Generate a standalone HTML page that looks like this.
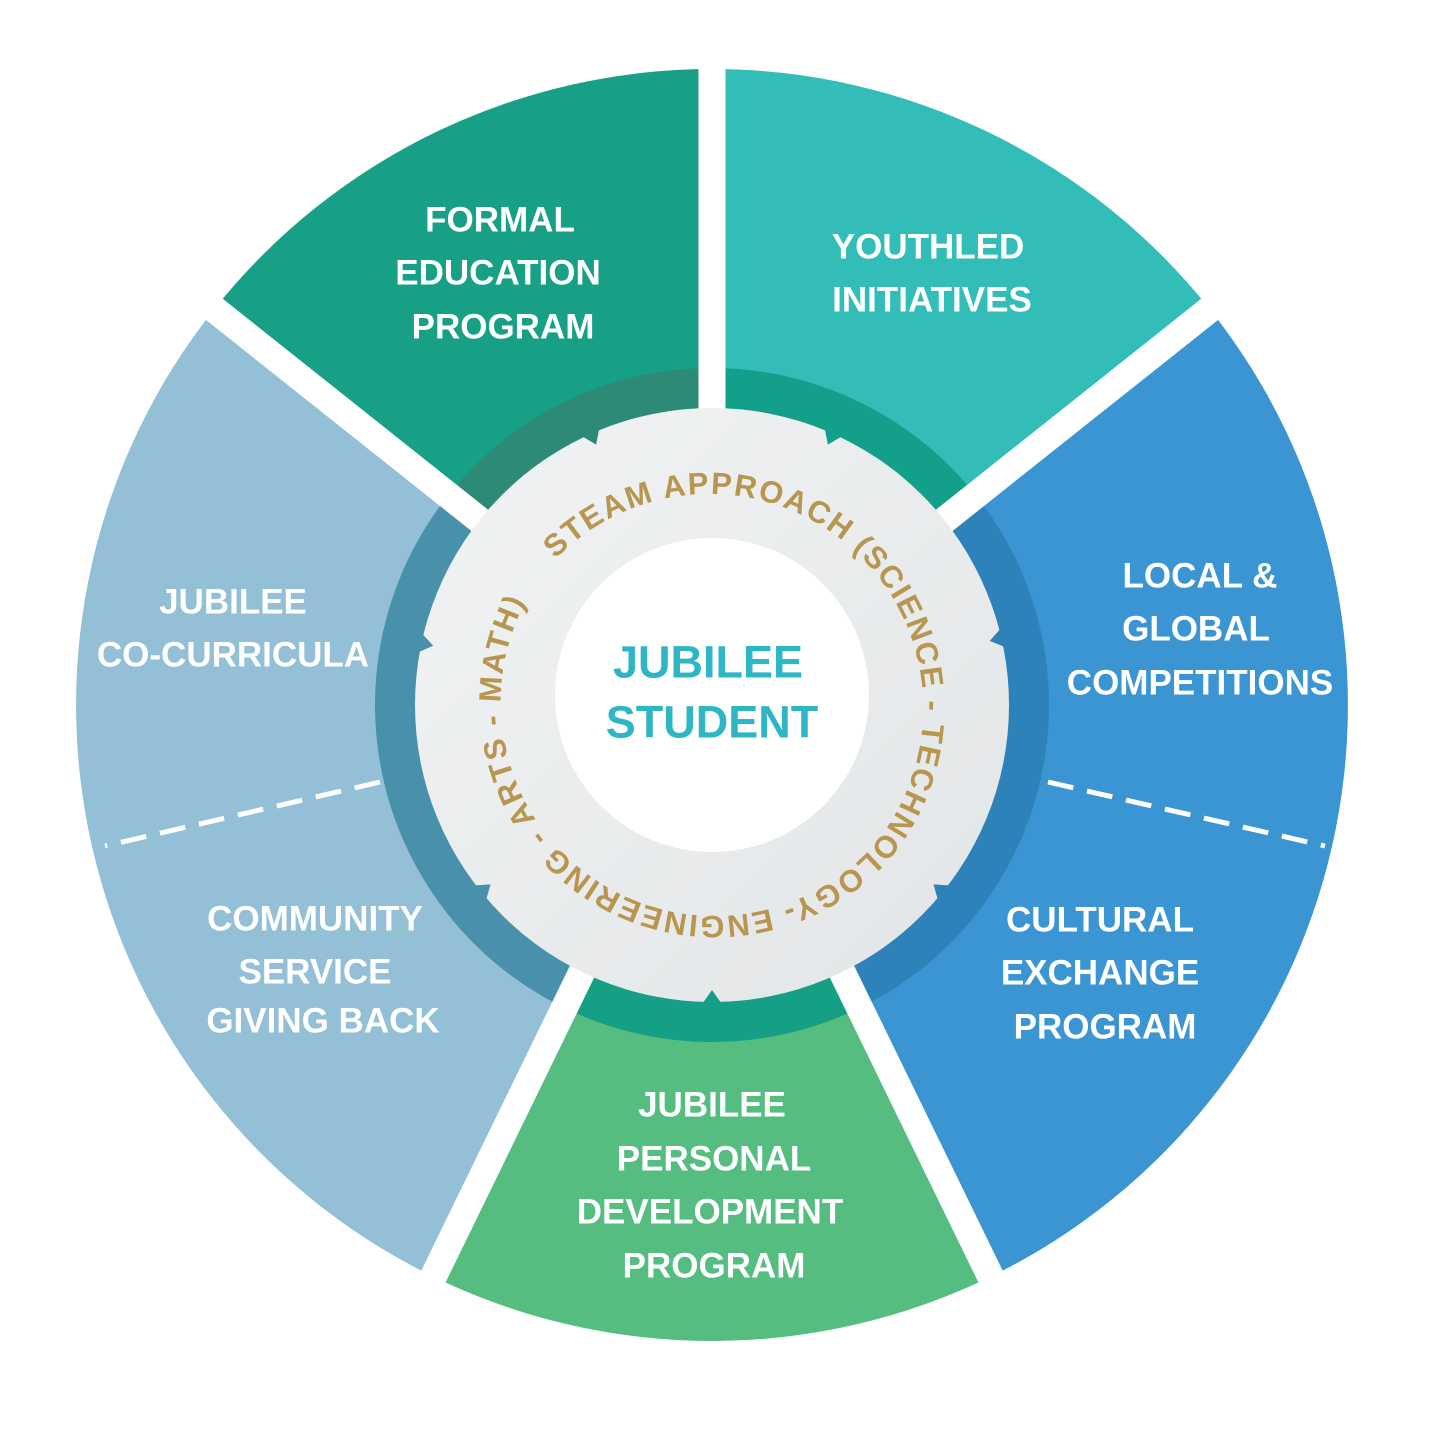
<!DOCTYPE html>
<html><head><meta charset="utf-8"><style>
html,body{margin:0;padding:0;background:#fff}
svg{display:block}
.l{font-family:"Liberation Sans",sans-serif;font-weight:bold;font-size:35px;fill:#fff;text-anchor:middle;dominant-baseline:central}
</style></head><body>
<svg width="1433" height="1433" viewBox="0 0 1433 1433" xmlns="http://www.w3.org/2000/svg">
<defs>
<linearGradient id="g" x1="0" y1="0" x2="1" y2="1"><stop offset="0" stop-color="#f1f3f4"/><stop offset="1" stop-color="#e2e5e7"/></linearGradient>
<path id="tp" d="M555.5,559.1 A214,214 0 0 1 868.5,850.9 A214,214 0 0 1 555.5,559.1"/>
</defs>
<path d="M712,705 L213.6,310 A636,636 0 0 1 712,69 Z" fill="#17a085"/>
<path d="M712,705 L712,69 A636,636 0 0 1 1210.4,310 Z" fill="#33bdb9"/>
<path d="M712,705 L1210.4,310 A636,636 0 0 1 990.8,1276.6 Z" fill="#3b95d3"/>
<path d="M712,705 L990.8,1276.6 A636,636 0 0 1 433.2,1276.6 Z" fill="#55bd80"/>
<path d="M712,705 L433.2,1276.6 A636,636 0 0 1 213.6,310 Z" fill="#93bfd7"/>
<path d="M712,705 L447.9,495.7 A337,337 0 0 1 712,368 Z" fill="#2d8a77"/>
<path d="M712,705 L712,368 A337,337 0 0 1 976.1,495.7 Z" fill="#12a08a"/>
<path d="M712,705 L976.1,495.7 A337,337 0 0 1 859.7,1007.9 Z" fill="#2e82ba"/>
<path d="M712,705 L859.7,1007.9 A337,337 0 0 1 564.3,1007.9 Z" fill="#15a085"/>
<path d="M712,705 L564.3,1007.9 A337,337 0 0 1 447.9,495.7 Z" fill="#4990aa"/>
<g stroke="#fff" stroke-width="27">
<line x1="712" y1="705" x2="712" y2="40"/>
<line x1="712" y1="705" x2="190" y2="290"/>
<line x1="712" y1="705" x2="1234" y2="290"/>
<line x1="712" y1="705" x2="1002" y2="1300"/>
<line x1="712" y1="705" x2="422" y2="1300"/>
</g>
<g stroke="#fff" stroke-width="5" stroke-dasharray="26,14">
<line x1="380" y1="782" x2="105" y2="846"/>
<line x1="1048" y1="782" x2="1325" y2="846"/>
</g>
<circle cx="712" cy="705" r="297" fill="url(#g)"/>
<g transform="translate(712,705)">
<polygon points="-12,-302 12,-302 0,-285" fill="#2d8a77" transform="rotate(-24)"/>
<polygon points="-12,-302 12,-302 0,-285" fill="#12a08a" transform="rotate(24)"/>
<polygon points="-12,-302 12,-302 0,-285" fill="#4990aa" transform="rotate(-78)"/>
<polygon points="-12,-302 12,-302 0,-285" fill="#2e82ba" transform="rotate(77)"/>
<polygon points="-12,-302 12,-302 0,-285" fill="#4990aa" transform="rotate(-129)"/>
<polygon points="-12,-302 12,-302 0,-285" fill="#2e82ba" transform="rotate(129)"/>
<polygon points="-12,-302 12,-302 0,-285" fill="#15a085" transform="rotate(180)"/>
</g>
<circle cx="712" cy="695" r="157" fill="#fff"/>
<text font-family="Liberation Sans,sans-serif" font-weight="bold" font-size="31" fill="#b8964f"><textPath href="#tp" textLength="1275" lengthAdjust="spacing">STEAM APPROACH (SCIENCE - TECHNOLOGY- ENGINEERING - ARTS - MATH)</textPath></text>
<g font-family="Liberation Sans,sans-serif" font-weight="bold" font-size="45" fill="#2fb6c5" text-anchor="middle" dominant-baseline="central">
<text x="708" y="662">JUBILEE</text>
<text x="712" y="722">STUDENT</text>
</g>
<text class="l" x="500" y="220">FORMAL</text>
<text class="l" x="498" y="273">EDUCATION</text>
<text class="l" x="503" y="327">PROGRAM</text>
<text class="l" x="928" y="247">YOUTHLED</text>
<text class="l" x="932" y="300">INITIATIVES</text>
<text class="l" x="1200" y="576">LOCAL &amp;</text>
<text class="l" x="1196" y="629">GLOBAL</text>
<text class="l" x="1200" y="683">COMPETITIONS</text>
<text class="l" x="233" y="602">JUBILEE</text>
<text class="l" x="233" y="655">CO-CURRICULA</text>
<text class="l" x="315" y="919">COMMUNITY</text>
<text class="l" x="315" y="972">SERVICE</text>
<text class="l" x="323" y="1021">GIVING BACK</text>
<text class="l" x="1100" y="920">CULTURAL</text>
<text class="l" x="1100" y="973">EXCHANGE</text>
<text class="l" x="1105" y="1027">PROGRAM</text>
<text class="l" x="712" y="1105">JUBILEE</text>
<text class="l" x="714" y="1159">PERSONAL</text>
<text class="l" x="710" y="1212">DEVELOPMENT</text>
<text class="l" x="714" y="1266">PROGRAM</text>
</svg>
</body></html>
